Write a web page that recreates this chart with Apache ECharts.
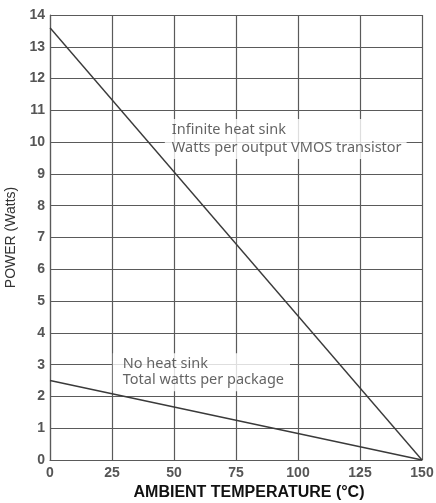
<!DOCTYPE html>
<html>
<head>
<meta charset="utf-8">
<script src="https://cdn.jsdelivr.net/npm/echarts@6/dist/echarts.min.js"></script>
<style>
  html, body { margin: 0; padding: 0; background: #fff; }
  #chart { width: 436px; height: 503px; }
</style>
</head>
<body>
<div id="chart"></div>
<script>
// Power derating versus ambient temperature
const temperatures = [0, 150];
const infiniteSinkWatts = [13.6, 0];
const noSinkWatts = [2.5, 0];

const xTicks = [0, 25, 50, 75, 100, 125, 150];
const yTicks = [0, 1, 2, 3, 4, 5, 6, 7, 8, 9, 10, 11, 12, 13, 14];

// Curve captions, anchored in data units
const captionInfinite = { x: 46.3, y: 10.1, lines: ['Infinite heat sink', 'Watts per output VMOS transistor'] };
const captionNoSink = { x: 25.3, y: 2.76, lines: ['No heat sink', 'Total watts per package'] };

const ink = '#3a3a3a';
const gridInk = '#5a5a5a';
const sans = 'Liberation Sans, Arial, sans-serif';

function pairs(xs, ys) { return xs.map((x, i) => [x, ys[i]]); }

function caption(c, pad, lh) {
  return {
    type: 'scatter',
    symbolSize: 0,
    silent: true,
    z: 5,
    data: [[c.x, c.y]],
    label: {
      show: true,
      position: 'inside',
      align: 'left',
      verticalAlign: 'middle',
      formatter: c.lines.join('\n'),
      color: '#3c3c3c',
      fontFamily: 'Noto Sans, Open Sans, sans-serif',
      fontSize: 14.5,
      lineHeight: lh,
      backgroundColor: '#fff',
      padding: pad
    }
  };
}

const chart = echarts.init(document.getElementById('chart'), null, { renderer: 'canvas' });
chart.setOption({
  animation: false,
  backgroundColor: '#fff',
  grid: { left: 50, right: 14, top: 15, bottom: 43, containLabel: false, outerBoundsMode: 'none' },
  xAxis: {
    type: 'value',
    min: xTicks[0],
    max: xTicks[xTicks.length - 1],
    interval: 25,
    name: 'AMBIENT TEMPERATURE (°C)',
    nameLocation: 'middle',
    nameGap: 22,
    nameTextStyle: {
      color: '#111', fontWeight: 'bold', fontSize: 16,
      fontFamily: sans,
      padding: [0, 0, 0, 26]
    },
    axisLine: { show: true, lineStyle: { color: gridInk, width: 1.2 } },
    axisTick: { show: false },
    axisLabel: { color: '#555', fontSize: 14, fontWeight: 'bold', margin: 6, fontFamily: sans },
    splitLine: { show: true, lineStyle: { color: gridInk, width: 1.2 } }
  },
  yAxis: {
    type: 'value',
    min: yTicks[0],
    max: yTicks[yTicks.length - 1],
    interval: 1,
    name: 'POWER (Watts)',
    nameLocation: 'middle',
    nameRotate: 90,
    nameGap: 30,
    nameTextStyle: { color: '#333', fontSize: 14, fontFamily: sans },
    axisLine: { show: true, lineStyle: { color: gridInk, width: 1.2 } },
    axisTick: { show: false },
    axisLabel: { color: '#555', fontSize: 14, fontWeight: 'bold', margin: 5, fontFamily: sans },
    splitLine: { show: true, lineStyle: { color: gridInk, width: 1.2 } }
  },
  series: [
    {
      type: 'line',
      data: pairs(temperatures, infiniteSinkWatts),
      symbol: 'none',
      z: 6,
      lineStyle: { color: ink, width: 1.4 }
    },
    {
      type: 'line',
      data: pairs(temperatures, noSinkWatts),
      symbol: 'none',
      z: 6,
      lineStyle: { color: ink, width: 1.4 }
    },
    caption(captionInfinite, [2, 5, 2, 7], 18),
    caption(captionNoSink, [3, 6, 3, 10], 16)
  ]
});
</script>
</body>
</html>
